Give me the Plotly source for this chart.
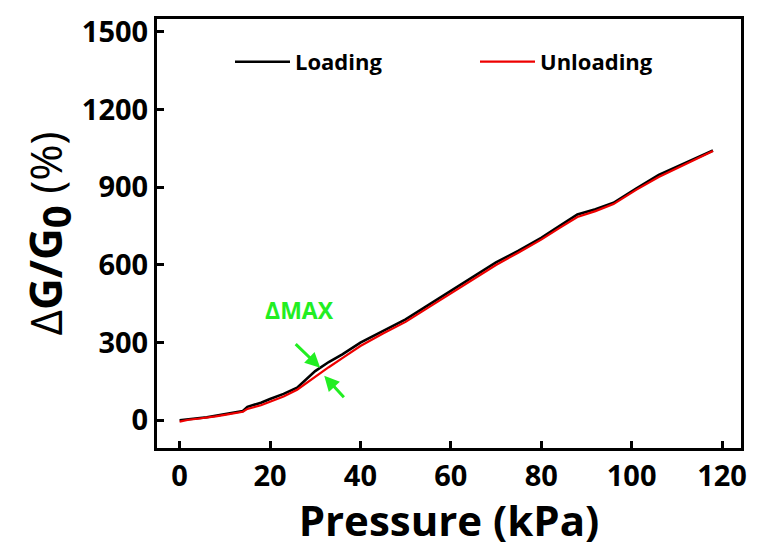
import plotly.graph_objects as go

pressure = [0, 2, 4, 6, 8, 10, 12, 14, 15, 18, 20, 23, 26, 28, 30, 33, 36, 40, 45, 50,
            55, 60, 65, 70, 75, 80, 84, 88, 92, 96, 101, 106, 112, 118]
loading = [0, 5, 8, 12, 18, 24, 30, 36, 52, 68, 82, 102, 126, 158, 190, 225, 255, 300, 345, 390,
           445, 500, 555, 610, 655, 705, 750, 795, 815, 840, 895, 948, 995, 1042]
unloading = [-5, 2, 6, 10, 15, 21, 27, 33, 44, 58, 72, 92, 118, 143, 170, 205, 240, 287, 335, 380,
             435, 490, 545, 600, 648, 698, 742, 785, 808, 835, 890, 940, 990, 1040]

x_ticks = [0, 20, 40, 60, 80, 100, 120]
y_ticks = [0, 300, 600, 900, 1200, 1500]

FONT = "Open Sans"
GREEN = "#22EE22"

fig = go.Figure()
fig.add_trace(go.Scatter(x=pressure, y=loading, mode="lines", name="<b>Loading</b>",
                         line=dict(color="black", width=2.6)))
fig.add_trace(go.Scatter(x=pressure, y=unloading, mode="lines", name="<b>Unloading</b>",
                         line=dict(color="#EE0000", width=2.2)))

axis_common = dict(
    showline=True, linecolor="black", linewidth=3, mirror=True,
    ticks="inside", ticklen=7, tickwidth=3, tickcolor="black",
    showgrid=False, zeroline=False,
    tickfont=dict(family=FONT, size=29, color="black", weight="bold"),
)

fig.update_xaxes(range=[-5, 124.2], tickvals=x_ticks,
                 title=dict(text="<b>Pressure (kPa)</b>", font=dict(family=FONT, size=42, color="black"),
                            standoff=4),
                 **axis_common)
fig.update_yaxes(range=[-107, 1550], tickvals=y_ticks,
                 title=dict(text="Δ<b>G/G<sub><span style='font-size:40px'>0</span></sub></b> (%)",
                            font=dict(family=FONT, size=44, color="black"),
                            standoff=6),
                 **axis_common)

fig.add_annotation(x=31.1, y=203, ax=-26, ay=-25, xref="x", yref="y", axref="pixel", ayref="pixel",
                   showarrow=True, arrowhead=2, arrowsize=1, arrowwidth=3, arrowcolor=GREEN, text="")
fig.add_annotation(x=32.0, y=172, ax=21, ay=23, xref="x", yref="y", axref="pixel", ayref="pixel",
                   showarrow=True, arrowhead=2, arrowsize=1, arrowwidth=3, arrowcolor=GREEN, text="")
fig.add_annotation(x=26.5, y=425, xref="x", yref="y", showarrow=False,
                   text="<b>ΔMAX</b>", font=dict(family=FONT, size=23, color=GREEN))

fig.update_layout(
    width=758, height=548,
    margin=dict(l=157, r=11, t=15, b=100),
    plot_bgcolor="white", paper_bgcolor="white",
    showlegend=True,
    legend=dict(orientation="h", x=0.125, xanchor="left", y=0.9, yanchor="middle",
                font=dict(family=FONT, size=22, color="black"),
                entrywidth=175, entrywidthmode="pixels", itemwidth=55,
                bgcolor="rgba(0,0,0,0)"),
)

fig.write_html("out.html")
